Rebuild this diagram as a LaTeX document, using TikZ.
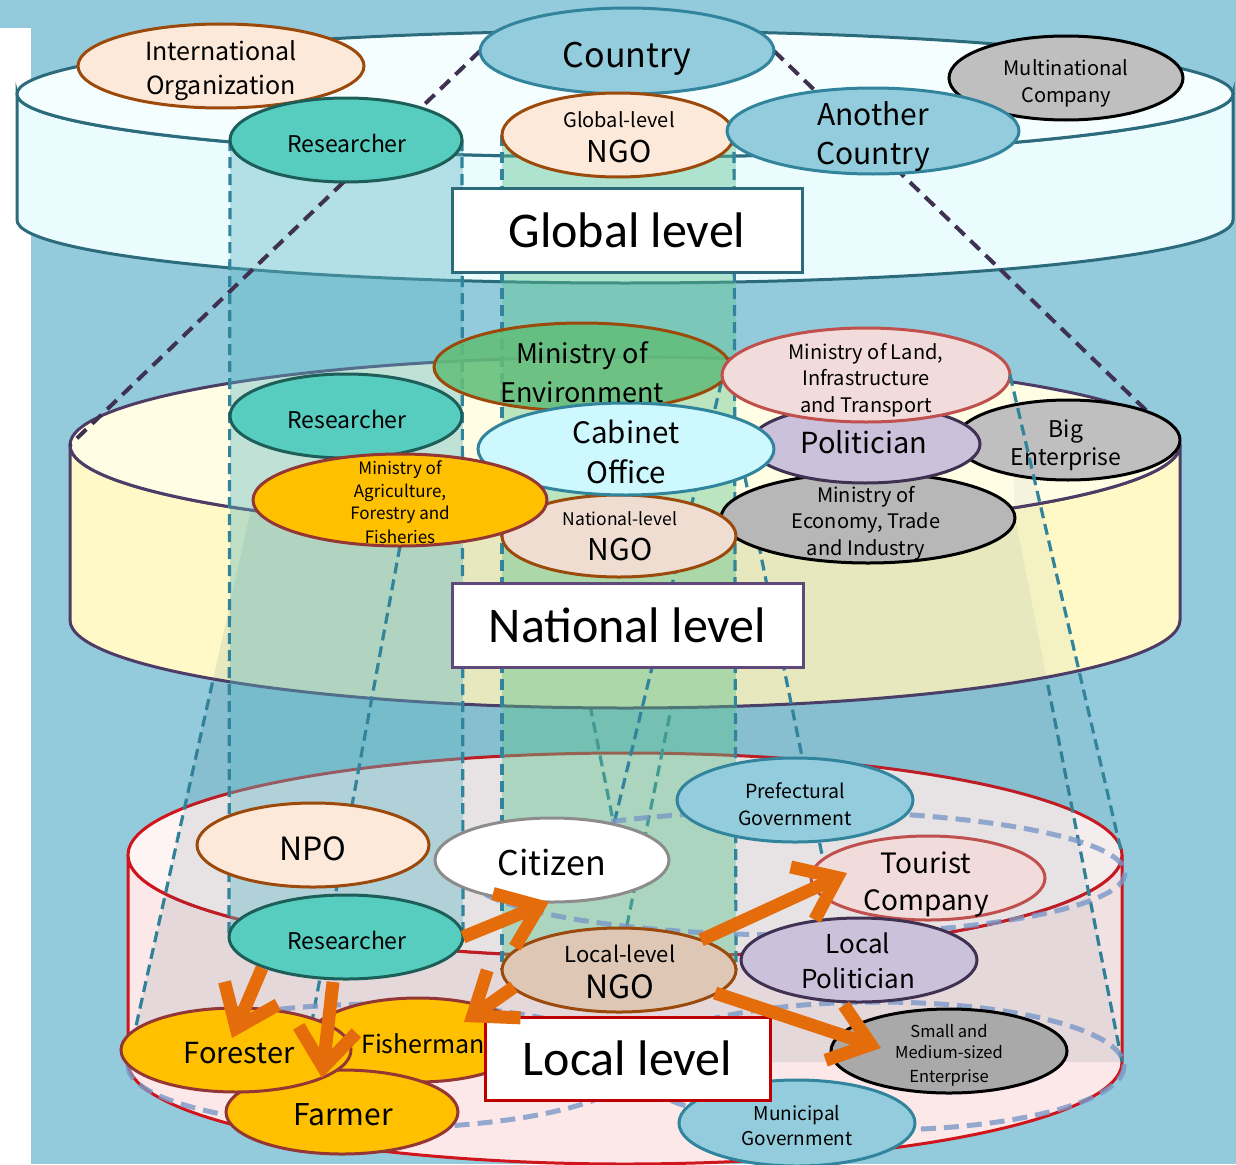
\documentclass[tikz,border=0pt]{standalone}
\usepackage{fontspec}
\setmainfont{Noto Sans CJK JP}
\newfontfamily\lvlfont{Carlito}
\usetikzlibrary{shapes.geometric,arrows.meta,calc}

\pgfdeclarelayer{base}
\pgfdeclarelayer{hid}
\pgfdeclarelayer{nat}
\pgfdeclarelayer{ov}
\pgfdeclarelayer{front}
\pgfsetlayers{base,hid,nat,ov,main,front}

\definecolor{bgblue}{HTML}{93CBDC}
\definecolor{gtop}{HTML}{F5FEFF}
\definecolor{gside}{HTML}{EAFCFE}
\definecolor{gline}{HTML}{2C6B7C}
\definecolor{ntop}{HTML}{FFFDE4}
\definecolor{nside}{HTML}{FFF9C8}
\definecolor{nline}{HTML}{4D3C66}
\definecolor{ltop}{HTML}{FFF4F4}
\definecolor{lside}{HTML}{FCE8E9}
\definecolor{lline}{HTML}{D0161C}
\definecolor{peach}{HTML}{FDE9D9}
\definecolor{brownline}{HTML}{9C4A0C}
\definecolor{nodeblue}{HTML}{93CDDD}
\definecolor{nodebluedk}{HTML}{31849B}
\definecolor{nodegray}{HTML}{BFBFBF}
\definecolor{metigray}{HTML}{B7B7B7}
\definecolor{smegray}{HTML}{A9A9A9}
\definecolor{nodeteal}{HTML}{56CDBF}
\definecolor{nodetealdk}{HTML}{1E5E58}
\definecolor{nodegreen}{HTML}{63BE7B}
\definecolor{nodepink}{HTML}{F2DCDB}
\definecolor{pinkline}{HTML}{C0504D}
\definecolor{cabfill}{HTML}{CCF8FE}
\definecolor{nodelav}{HTML}{CCC1DA}
\definecolor{lavline}{HTML}{403152}
\definecolor{nodeorange}{HTML}{FFC000}
\definecolor{maroon}{HTML}{943634}
\definecolor{ngoNfill}{HTML}{EEDDD0}
\definecolor{ngoLfill}{HTML}{DEC7B5}
\definecolor{citline}{HTML}{8C8C8C}
\definecolor{flowarrow}{HTML}{E46C0A}
\definecolor{dashteal}{HTML}{31849B}
\definecolor{dashpurple}{HTML}{3F3151}
\definecolor{innerblue}{HTML}{7A98C8}
\definecolor{funnel}{HTML}{2A5F70}
\definecolor{colteal}{HTML}{5FB8C2}
\definecolor{colgreen}{HTML}{5CC48E}
\definecolor{natbox}{HTML}{5F497A}
\definecolor{redbox}{HTML}{C00000}

\newcommand\tsize[1]{\fontsize{#1}{#1}\selectfont}
% ellipse node: name, x, y, x radius, y radius, style
\newcommand\Ell[6]{\node[ell,#6,minimum width={2*(#4)},minimum height={2*(#5)}] (#1) at (#2,#3) {};}
% text line: name, x, baseline y, size, text
\newcommand\Lbl[5]{\node[txt,font=\tsize{#4}] (#1) at (#2,#3) {#5};}
% cylinder: cx, top y, bottom y, rx, ry, side fill, top fill, outline
\newcommand\Cyl[8]{%
  \filldraw[fill=#6,draw=#8,line width=3pt]
    (#1-#4,#2) -- (#1-#4,#3) arc[start angle=180,end angle=0,x radius=#4,y radius=#5]
    -- (#1+#4,#2) arc[start angle=0,end angle=180,x radius=#4,y radius=#5] -- cycle;
  \filldraw[fill=#7,draw=#8,line width=3pt] (#1,#2) ellipse[x radius=#4,y radius=#5];}

\begin{document}
\begin{tikzpicture}[x=1pt,y=-1pt,
  ell/.style={ellipse,line width=3pt,inner sep=0pt,outer sep=0pt},
  peachN/.style={fill=peach,draw=brownline},
  blueN/.style={fill=nodeblue,draw=nodebluedk},
  grayN/.style={fill=nodegray,draw=black},
  tealN/.style={fill=nodeteal,draw=nodetealdk},
  orangeN/.style={fill=nodeorange,draw=maroon},
  pinkN/.style={fill=nodepink,draw=pinkline},
  lavN/.style={fill=nodelav,draw=lavline},
  txt/.style={anchor=base,inner sep=0pt,outer sep=0pt,text=black},
  levelbox/.style={draw,fill=white,line width=3pt,inner sep=0pt,font=\lvlfont\tsize{50}},
  tealdash/.style={draw=dashteal,line width=3.2pt,dash pattern=on 11pt off 6pt},
  purpledash/.style={draw=dashpurple,line width=4pt,dash pattern=on 13pt off 8pt},
  innerdash/.style={draw=innerblue,line width=5pt,dash pattern=on 15pt off 8pt,draw opacity=0.8},
  flow/.style={draw=flowarrow,line width=13pt,-{Straight Barb[length=38pt,width=58pt]}}]

\useasboundingbox (0,0) rectangle (1236,1164);

% ---------- nodes: global level ----------
\Ell{io}{221}{66}{143}{42}{peachN}
\Ell{mnc}{1066}{78}{117}{42}{grayN}
\Ell{country}{627}{51}{147}{43}{blueN}
\Ell{rg}{346}{140}{116}{42}{tealN}
\Ell{ngoG}{618}{135}{116}{42}{peachN}
\Ell{another}{873}{131}{146}{43}{blueN}

% ---------- nodes: national level ----------
\Ell{rn}{346}{416}{116}{42}{tealN}
\Ell{moe}{582}{367}{148}{44}{fill=nodegreen,draw=brownline,fill opacity=0.88}
\Ell{big}{1068}{440}{112}{40}{grayN}
\Ell{meti}{868}{518}{147}{45}{fill=metigray,draw=black}
\Ell{pol}{865}{444}{115}{39}{lavN}
\Ell{mlit}{866}{375}{144}{47}{pinkN}
\Ell{ngoN}{619}{536}{117}{41}{fill=ngoNfill,draw=brownline}
\Ell{cab}{626}{449}{148}{46}{fill=cabfill,draw=nodebluedk}
\Ell{maff}{400}{500}{147}{46}{orangeN}

% ---------- nodes: local level ----------
\Ell{tour}{928}{878}{117}{42}{pinkN}
\Ell{pref}{795}{800}{118}{42}{blueN}
\Ell{lpol}{859}{960}{118}{42}{lavN}
\Ell{npo}{313}{845}{116}{42}{peachN}
\Ell{cit}{552}{860}{117}{42}{fill=white,draw=citline}
\Ell{rl}{346}{937}{117}{42}{tealN}
\Ell{ngoL}{619}{970}{117}{42}{fill=ngoLfill,draw=brownline}
\Ell{sme}{949}{1051}{118}{42}{fill=smegray,draw=black}
\Ell{mun}{797}{1123}{118}{43}{blueN}
\Ell{fi}{418}{1040}{110}{42}{orangeN}
\Ell{farm}{342}{1112}{116}{42}{orangeN}
\Ell{fo}{236}{1050}{115}{42}{orangeN}

% ---------- labels ----------
\Lbl{io-t1}{221}{60}{25}{International}
\Lbl{io-t2}{221}{94}{25}{Organization}
\Lbl{mnc-t1}{1066}{75}{20}{Multinational}
\Lbl{mnc-t2}{1066}{102}{20}{Company}
\Lbl{country-t}{627}{67}{34}{Country}
\Lbl{rg-t}{347}{152}{23}{Researcher}
\Lbl{ngoG-t1}{619}{127}{20}{Global-level}
\Lbl{ngoG-t2}{619}{162}{30}{NGO}
\Lbl{another-t1}{873}{125}{30}{Another}
\Lbl{another-t2}{873}{164}{30}{Country}

\Lbl{rn-t}{347}{428}{23}{Researcher}
\Lbl{moe-t1}{582}{363}{27}{Ministry of}
\Lbl{moe-t2}{582}{402}{27}{Environment}
\Lbl{mlit-t1}{866}{359}{20}{Ministry of Land,}
\Lbl{mlit-t2}{866}{385}{20}{Infrastructure}
\Lbl{mlit-t3}{866}{412}{20}{and Transport}
\Lbl{cab-t1}{626}{443}{29.5}{Cabinet}
\Lbl{cab-t2}{626}{483}{29.5}{Office}
\Lbl{pol-t}{864}{453}{29}{Politician}
\Lbl{big-t1}{1066}{437}{23}{Big}
\Lbl{big-t2}{1066}{465}{23}{Enterprise}
\Lbl{maff-t1}{400}{474}{17}{Ministry of}
\Lbl{maff-t2}{400}{497}{17}{Agriculture,}
\Lbl{maff-t3}{400}{519}{17}{Forestry and}
\Lbl{maff-t4}{400}{543}{17}{Fisheries}
\Lbl{ngoN-t1}{620}{525}{17.5}{National-level}
\Lbl{ngoN-t2}{620}{560}{30}{NGO}
\Lbl{meti-t1}{866}{502}{20}{Ministry of}
\Lbl{meti-t2}{866}{528}{20}{Economy, Trade}
\Lbl{meti-t3}{866}{555}{20}{and Industry}

\Lbl{npo-t}{313}{860}{32}{NPO}
\Lbl{cit-t}{552}{875}{34}{Citizen}
\Lbl{pref-t1}{795}{798}{19.5}{Prefectural}
\Lbl{pref-t2}{795}{825}{19.5}{Government}
\Lbl{tour-t1}{926}{873}{28}{Tourist}
\Lbl{tour-t2}{926}{910}{28}{Company}
\Lbl{rl-t}{347}{949}{23}{Researcher}
\Lbl{ngoL-t1}{620}{962}{22}{Local-level}
\Lbl{ngoL-t2}{620}{998}{32}{NGO}
\Lbl{lpol-t1}{858}{953}{26}{Local}
\Lbl{lpol-t2}{858}{988}{26}{Politician}
\Lbl{sme-t1}{949}{1037}{16.5}{Small and}
\Lbl{sme-t2}{949}{1058}{16.5}{Medium-sized}
\Lbl{sme-t3}{949}{1082}{16.5}{Enterprise}
\Lbl{fo-t}{239}{1063}{29}{Forester}
\Lbl{fi-t}{423}{1053}{25}{Fisherman}
\Lbl{farm-t}{343}{1125}{30}{Farmer}
\Lbl{mun-t1}{797}{1120}{19}{Municipal}
\Lbl{mun-t2}{797}{1145}{19}{Government}

% ---------- level boxes ----------
\node[levelbox,draw=gline,minimum width=350,minimum height=84] (gbox) at (627,230) {Global level};
\node[levelbox,draw=natbox,minimum width=351,minimum height=84] (nbox) at (627.5,625) {National level};
\node[levelbox,draw=redbox,minimum width=285,minimum height=83] (lbox) at (627.5,1058.5) {Local level};

% ---------- fixed points on the cylinders ----------
\coordinate (natL) at (70,445);
\coordinate (natR) at (1180,443);
\coordinate (locTR) at (1122,855);
\coordinate (locBR) at (1122,1062);
\coordinate (locBL) at (128,1062);

% ---------- background and outer cylinders ----------
\begin{pgfonlayer}{base}
  \fill[bgblue] (0,0) rectangle (1236,1164);
  \fill[white] (0,28) rectangle (31,1164);
  \Cyl{625}{94}{220}{608}{63}{gside}{gtop}{gline}
  \Cyl{625}{855}{1062}{497}{102}{lside}{ltop}{lline}
\end{pgfonlayer}

% ---------- links hidden behind the national cylinder ----------
\begin{pgfonlayer}{hid}
  \draw[tealdash] (maff.west) -- (locBL);
  \draw[tealdash] (meti.east) -- (locBR);
  \draw[tealdash] (ngoN.213) -- (cit.30);
  \draw[tealdash] (ngoN.-20) -- (ngoL.80);
\end{pgfonlayer}

\begin{pgfonlayer}{nat}
  \Cyl{625}{445}{620}{555}{88}{nside}{ntop}{nline}
\end{pgfonlayer}

% ---------- translucent funnels, columns and links ----------
\begin{pgfonlayer}{ov}
  \fill[funnel,fill opacity=0.05] (mlit.east) -- (locTR) -- (locBR) -- (meti.east) -- cycle;
  \fill[funnel,fill opacity=0.11] (maff.west) -- (meti.east) -- (locBR) -- (locBL) -- cycle;
  \fill[colteal,fill opacity=0.4] (rg.west) rectangle (rl.east);
  \fill[colgreen,fill opacity=0.42] (ngoG.west) rectangle (ngoL.east);

  \draw[purpledash] (country.west) -- (natL);
  \draw[purpledash] (country.east) -- (natR);

  \draw[tealdash] (rg.west) -- (rl.west);
  \draw[tealdash] (rg.east) -- (rl.east);
  \draw[tealdash] (ngoG.west) -- (ngoL.west);
  \draw[tealdash] (ngoG.east) -- (ngoL.east);

  \draw[tealdash] (maff.south) -- (farm.135);
  \draw[tealdash] (moe.-6) -- (cit.30);
  \draw[tealdash] (cab.-13) -- (tour.170);

  \draw[innerdash] (795,873) ellipse[x radius=330,y radius=62];
  \draw[innerdash] (382,1066) ellipse[x radius=254,y radius=62];
  \draw[innerdash] (878,1066) ellipse[x radius=246,y radius=64];
\end{pgfonlayer}

% ---------- front: outer link and flows ----------
\begin{pgfonlayer}{front}
  \draw[tealdash] (mlit.east) -- (locTR);
  \draw[flow] (rl.east) -- ($(cit.center)+(-3,42)$);
  \draw[flow] ($(rl.center)+(-84,31)$) -- ($(fo.center)+(-4,-12)$);
  \draw[flow] ($(rl.center)+(-13,45)$) -- ($(farm.center)+(-20,-34)$);
  \draw[flow] ($(ngoL.center)+(-105,17)$) -- ($(fi.center)+(46,-18)$);
  \draw[flow] ($(ngoL.center)+(82,-30)$) -- ($(tour.center)+(-81,-5)$);
  \draw[flow] ($(ngoL.center)+(96,23)$) -- ($(sme.center)+(-68,-3)$);
\end{pgfonlayer}
\end{tikzpicture}
\end{document}
